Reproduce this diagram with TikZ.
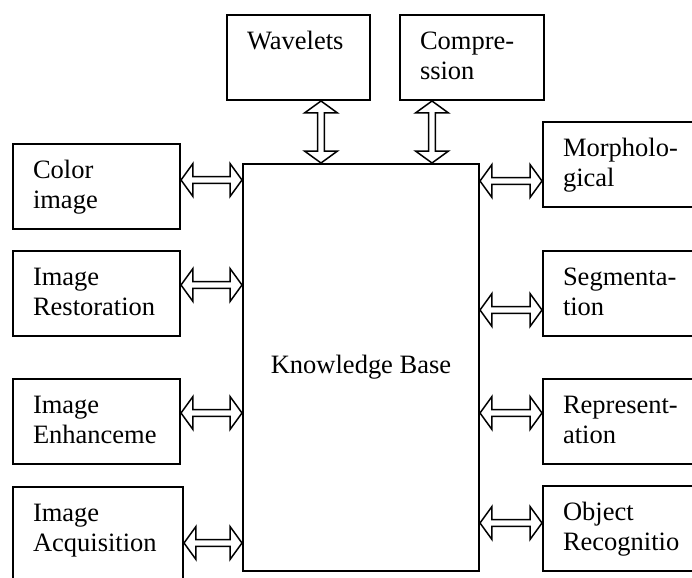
\documentclass[tikz,border=0pt]{standalone}
\usepackage{fontspec}
\setmainfont{Liberation Serif}
\usetikzlibrary{positioning,shapes.arrows,calc}

\tikzset{
  blk/.style={draw, line width=1pt, anchor=north west, text width=#1, align=left,
    inner xsep=10pt, inner ysep=6.5pt, text height=10.5pt, text depth=19pt},
  dbl/.style={double arrow, draw, line width=0.75pt, fill=white, inner sep=0pt,
    minimum width=16.5pt, double arrow head extend=1.5pt, double arrow tip angle=108},
  dblink/.style={to path={let \p1=(\tikztostart), \p2=(\tikztotarget),
    \n1={veclen(\x2-\x1,\y2-\y1)} in
    (\tikztostart) -- (\tikztotarget) node[midway, sloped, dbl, minimum height=\n1] {}}}
}

\begin{document}
\begin{tikzpicture}[x=0.5pt, y=-0.5pt, font=\fontsize{13.25}{15}\selectfont]
\useasboundingbox (0,0) rectangle (692,578);
\clip (0,0) rectangle (692,578);

\node[draw, line width=1pt, anchor=north west, minimum width=118pt, minimum height=203.5pt] (kb) at (242,163) {Knowledge Base};

% top row
\node[blk=51.5pt] (wave) at (226,14) {Wavelets};
\node[blk=52pt]   (comp) at (399,14) {Compre-\\ssion};

% left column
\node[blk=63.5pt] (color)   at (12,143) {Color\\image};
\node[blk=63.5pt] (restor)  at (12,250) {Image\\Restoration};
\node[blk=63.5pt] (enhance) at (12,378) {Image\\Enhanceme};
\node[blk=65pt, text depth=40pt] (acq) at (12,486) {Image\\Acquisition};

% right column
\node[blk=70pt] (morph) at (542,121) {Morpholo-\\gical};
\node[blk=70pt] (seg)   at (542,250) {Segmenta-\\tion};
\node[blk=70pt] (repr)  at (542,378) {Represent-\\ation};
\node[blk=70pt] (obj)   at (542,485) {Object\\Recognitio};

\path
(wave.south -| 321,0) edge [dblink] (kb.north -| 321,0)
(comp.south -| 432,0) edge [dblink] (kb.north -| 432,0)

(color.east |- 0,180)   edge [dblink] (kb.west |- 0,180)
(restor.east |- 0,285)  edge [dblink] (kb.west |- 0,285)
(enhance.east |- 0,413) edge [dblink] (kb.west |- 0,413)
(acq.east |- 0,543)     edge [dblink] (kb.west |- 0,543)

(kb.east |- 0,181) edge [dblink] (morph.west |- 0,181)
(kb.east |- 0,310) edge [dblink] (seg.west |- 0,310)
(kb.east |- 0,413) edge [dblink] (repr.west |- 0,413)
(kb.east |- 0,523) edge [dblink] (obj.west |- 0,523)
; %end path
\end{tikzpicture}
\end{document}
